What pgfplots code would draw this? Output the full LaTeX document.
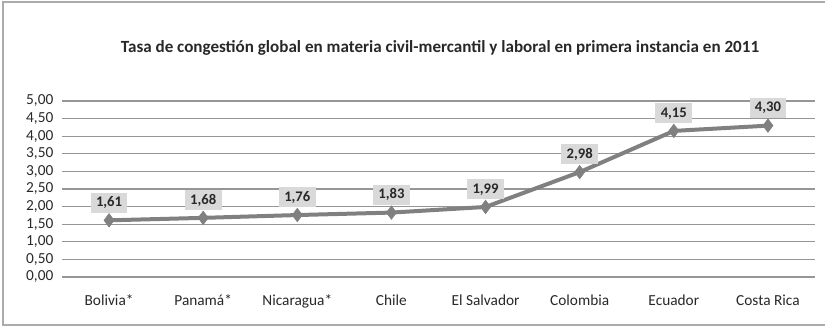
\documentclass[border=0pt]{standalone}
\usepackage{pgfplots}
\pgfplotsset{compat=1.18}
\usepackage{fontspec}
\setmainfont{Carlito}
\definecolor{serie}{RGB}{128,128,128}
\definecolor{rejilla}{RGB}{150,150,150}
\definecolor{etiqueta}{RGB}{217,217,217}
\definecolor{texto}{RGB}{40,40,40}
\begin{document}
\begin{tikzpicture}
\useasboundingbox (0,0) rectangle (618.75pt,246pt);
\draw[rejilla!80, line width=0.9pt] (2.25pt,2.25pt) rectangle (621pt,244.5pt);
\node[font=\bfseries\fontsize{12.8}{15}\selectfont, text=texto] at (330pt,210pt)
  {Tasa de congestión global en materia civil-mercantil y laboral en primera instancia en 2011};
\begin{axis}[
  at={(46.5pt,38.25pt)}, anchor=south west,
  scale only axis, width=564.75pt, height=132pt,
  xmin=-0.5, xmax=7.5, ymin=0, ymax=5,
  ytick={0,0.5,...,5},
  xtick={0,...,7},
  xticklabels={Bolivia*,Panamá*,Nicaragua*,Chile,El Salvador,Colombia,Ecuador,Costa Rica},
  axis line style={draw=none},
  major tick length=0pt,
  ymajorgrids,
  major grid style={rejilla, line width=1pt},
  yticklabel style={font=\fontsize{11.5}{13}\selectfont, text=texto, xshift=-3pt},
  xticklabel style={font=\fontsize{11.5}{13}\selectfont, text=texto, yshift=-10pt},
  /pgf/number format/.cd, use comma, fixed, fixed zerofill, precision=2, assume math mode=true,
  /pgfplots/.cd,
  clip=false,
]
\addplot[serie, line width=3pt, mark=diamond*, mark size=5pt,
  mark options={fill=serie, line width=0.5pt},
  nodes near coords,
  every node near coord/.style={anchor=south, yshift=5.5pt, fill=etiqueta,
    text=texto, font=\bfseries\fontsize{11}{12}\selectfont,
    inner xsep=4pt, inner ysep=0pt, minimum height=15pt,
    /pgf/number format/.cd, use comma, fixed, fixed zerofill, precision=2, assume math mode=true}]
  coordinates {(0,1.61) (1,1.68) (2,1.76) (3,1.83) (4,1.99) (5,2.98) (6,4.15) (7,4.30)};
\end{axis}
\end{tikzpicture}
\end{document}
